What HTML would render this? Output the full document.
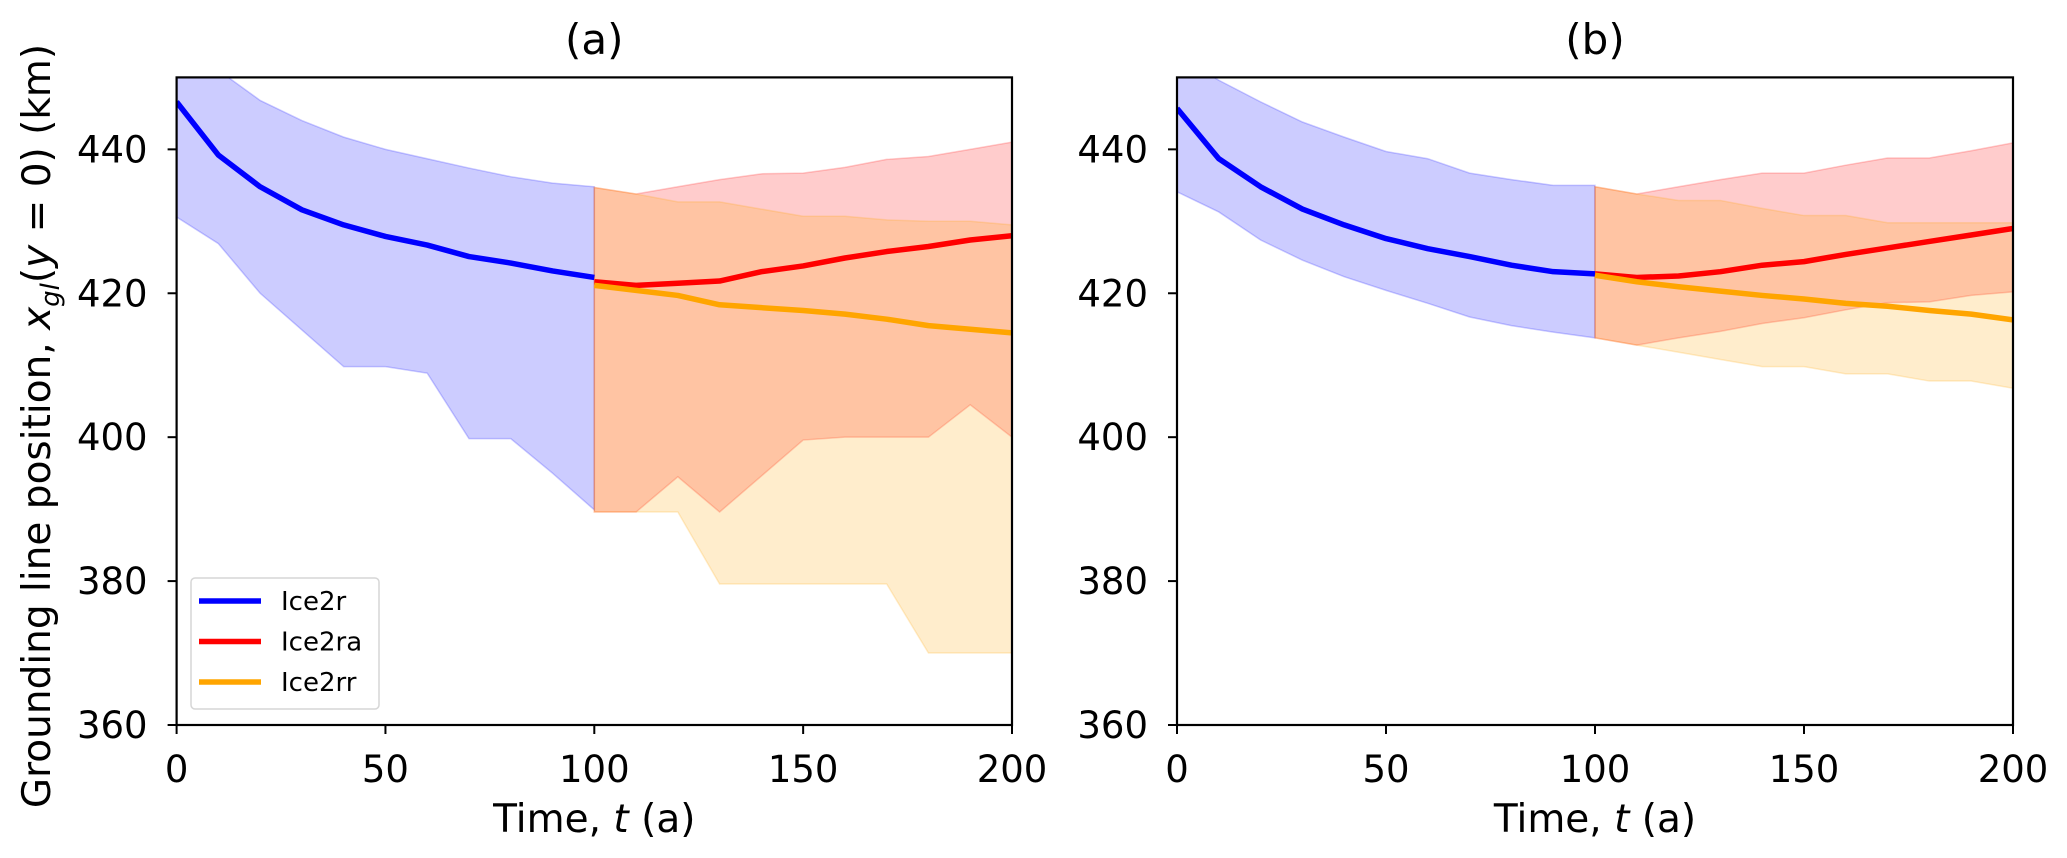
<!DOCTYPE html>
<html><head><meta charset="utf-8"><style>
html,body{margin:0;padding:0;background:#fff;}
svg{display:block;font-family:"DejaVu Sans","Liberation Sans",sans-serif;}
</style></head><body>
<svg id="fig" width="2067" height="858" viewBox="0 0 2067 858" xmlns="http://www.w3.org/2000/svg"></svg>
<script>
const times = [0,10,20,30,40,50,60,70,80,90,100];
const times2 = [100,110,120,130,140,150,160,170,180,190,200];
const xTicks = [0,50,100,150,200];
const yTicks = [360,380,400,420,440];
const seriesNames = ['Ice2r','Ice2ra','Ice2rr'];
// panel a
const aBlueMean = [446.6,439.2,434.8,431.6,429.5,427.9,426.7,425.1,424.2,423.1,422.2];
const aBlueUp = [455,451,446.8,444,441.7,440,438.7,437.4,436.2,435.3,434.8];
const aBlueLo = [430.6,426.9,420,414.9,409.8,409.8,408.9,399.8,399.8,395,389.9];
const aRedMean = [421.6,421.1,421.4,421.7,423,423.8,424.9,425.8,426.5,427.4,428];
const aRedUp = [434.7,433.8,434.8,435.8,436.6,436.7,437.5,438.6,439,440,441];
const aRedLo = [389.6,389.6,394.5,389.6,394.6,399.6,400,400,400,404.5,400];
const aOrMean = [421.1,420.4,419.7,418.4,418,417.6,417.1,416.4,415.5,415,414.5];
const aOrUp = [434.7,433.8,432.7,432.7,431.7,430.7,430.7,430.2,430,430,429.5];
const aOrLo = [389.6,389.6,389.6,379.6,379.6,379.6,379.6,379.6,370,370,370];
// panel b
const bBlueMean = [445.7,438.7,434.8,431.7,429.5,427.6,426.2,425.1,423.9,423,422.7];
const bBlueUp = [453,449.6,446.6,443.8,441.7,439.7,438.7,436.7,435.8,435,435];
const bBlueLo = [434.1,431.3,427.4,424.6,422.3,420.4,418.6,416.7,415.5,414.6,413.8];
const bRedMean = [422.7,422.2,422.4,423,423.9,424.4,425.4,426.3,427.2,428.1,429];
const bRedUp = [434.8,433.8,434.8,435.8,436.7,436.7,437.8,438.8,438.8,439.8,440.9];
const bRedLo = [413.8,412.8,413.8,414.7,415.8,416.6,417.7,418.7,418.8,419.7,420.2];
const bOrMean = [422.5,421.6,420.9,420.3,419.7,419.2,418.6,418.2,417.6,417.1,416.3];
const bOrUp = [434.8,433.8,432.9,432.9,431.8,430.8,430.8,429.8,429.8,429.8,429.8];
const bOrLo = [413.8,412.8,411.8,410.8,409.8,409.8,408.8,408.8,407.8,407.8,406.8];

const NS='http://www.w3.org/2000/svg';
const svg=document.getElementById('fig');
function mk(tag,attrs,parent){const e=document.createElementNS(NS,tag);for(const k in attrs)e.setAttribute(k,attrs[k]);(parent||svg).appendChild(e);return e;}

const TOP=77.4,BOT=725;
function yS(v){return BOT-(v-360)*(BOT-TOP)/90;}

function panel(left,right,title,d,showYLabel,showLegend,key){
  const g=mk('g',{});
  
  
  const xS=t=>left+t*(right-left)/200;
  const cid='clip-'+key;
  const cp=mk('clipPath',{id:cid},g);
  mk('rect',{x:left,y:TOP,width:right-left,height:BOT-TOP},cp);
  const plot=mk('g',{'clip-path':'url(#'+cid+')'},g);
  function band(ts,up,lo,color,name){
    let p='M'+ts.map((t,i)=>xS(t)+','+yS(up[i])).join('L');
    for(let i=ts.length-1;i>=0;i--)p+='L'+xS(ts[i])+','+yS(lo[i]);
    const e=mk('path',{d:p+'Z',fill:color,'fill-opacity':0.2,stroke:color,'stroke-opacity':0.2,'stroke-width':1.5},plot);
    
    
  }
  function line(ts,vals,color,name){
    const e=mk('polyline',{points:ts.map((t,i)=>xS(t)+','+yS(vals[i])).join(' '),fill:'none',stroke:color,'stroke-width':5.5,'stroke-linejoin':'round'},plot);
    
    
  }
  band(times,d.bu,d.bl,'#0000ff','ice2r-band');
  band(times2,d.ru,d.rl,'#ff0000','ice2ra-band');
  band(times2,d.ou,d.ol,'#ffa500','ice2rr-band');
  line(times,d.bm,'#0000ff','ice2r-line');
  line(times2,d.rm,'#ff0000','ice2ra-line');
  line(times2,d.om,'#ffa500','ice2rr-line');
  const fr=mk('rect',{x:left,y:TOP,width:right-left,height:BOT-TOP,fill:'none',stroke:'#000','stroke-width':2.2},g);
  
  
  xTicks.forEach(t=>{
    mk('line',{x1:xS(t),x2:xS(t),y1:BOT,y2:BOT+9,stroke:'#000','stroke-width':2},g);
    const tx=mk('text',{x:xS(t),y:BOT+57,'font-size':37,'text-anchor':'middle'},g);
    tx.textContent=t;
    
    
  });
  yTicks.forEach(v=>{
    mk('line',{x1:left-9,x2:left,y1:yS(v),y2:yS(v),stroke:'#000','stroke-width':2},g);
    const tx=mk('text',{x:left-29,y:yS(v)+13,'font-size':37,'text-anchor':'end'},g);
    tx.textContent=v;
    
    
  });
  const tt=mk('text',{x:(left+right)/2,y:54,'font-size':42,'text-anchor':'middle'},g);
  tt.textContent=title;
  
  
  const xl=mk('text',{x:(left+right)/2,y:832,'font-size':39,'text-anchor':'middle'},g);
  xl.innerHTML='Time, <tspan font-style="italic">t</tspan> (a)';
  
  
  if(showYLabel){
    const yl=mk('text',{x:0,y:0,'font-size':39,'text-anchor':'middle',transform:'translate(50,426) rotate(-90)'},g);
    yl.innerHTML='Grounding line position, <tspan font-style="italic">x</tspan><tspan font-style="italic" font-size="26" dy="9">gl</tspan><tspan dy="-9">(</tspan><tspan font-style="italic">y</tspan> = 0) (km)';
    
    
  }
  if(showLegend){
    const lg=mk('g',{},g);
    
    
    mk('rect',{x:191,y:578,width:188,height:131,rx:4,fill:'#fff','fill-opacity':0.8,stroke:'#d6d6d6','stroke-width':1.5},lg);
    const cols=['#0000ff','#ff0000','#ffa500'];
    seriesNames.forEach((n,i)=>{
      const yy=601+i*40.5;
      const le=mk('g',{},lg);
      
      
      mk('line',{x1:199,x2:261,y1:yy,y2:yy,stroke:cols[i],'stroke-width':5.5},le);
      const t=mk('text',{x:281,y:yy+9,'font-size':26},le);
      t.textContent=n;
    });
  }
}
panel(176.6,1012,'(a)',{bm:aBlueMean,bu:aBlueUp,bl:aBlueLo,rm:aRedMean,ru:aRedUp,rl:aRedLo,om:aOrMean,ou:aOrUp,ol:aOrLo},true,true,'a');
panel(1177,2013,'(b)',{bm:bBlueMean,bu:bBlueUp,bl:bBlueLo,rm:bRedMean,ru:bRedUp,rl:bRedLo,om:bOrMean,ou:bOrUp,ol:bOrLo},false,false,'b');
</script>
</body></html>
